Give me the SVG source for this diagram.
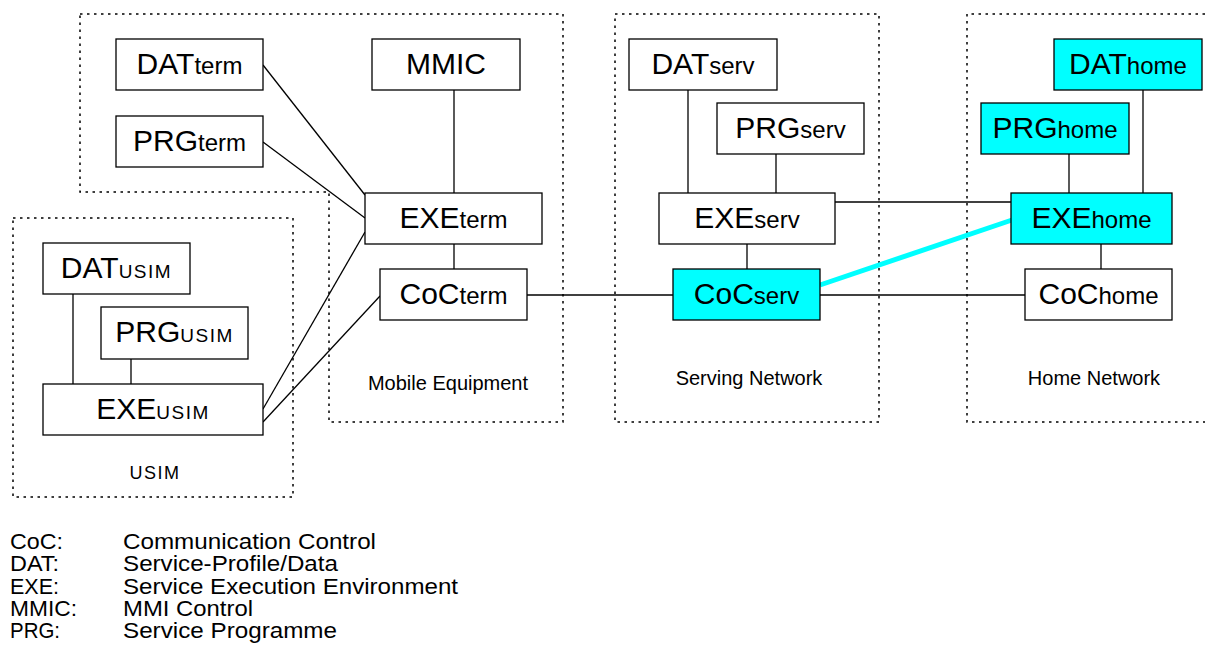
<svg xmlns="http://www.w3.org/2000/svg" width="1205" height="658" viewBox="0 0 1205 658">
<style>
.bg{fill:#ffffff}
.zone{fill:none;stroke:#000;stroke-width:1.5;stroke-dasharray:2.5 4.5}
.box{fill:#ffffff;stroke:#000;stroke-width:1.3}
.hi{fill:#00ffff;stroke:#000;stroke-width:1.3}
.lbl{font-family:"Liberation Sans",Arial,sans-serif;font-size:30px;fill:#000;text-anchor:middle}
.sub{font-size:24px}
.subc{font-size:19px;letter-spacing:1.5px}
.zl{font-family:"Liberation Sans",Arial,sans-serif;font-size:20px;fill:#000;text-anchor:middle}
.lg{font-family:"Liberation Sans",Arial,sans-serif;font-size:22px;fill:#000}
.cn{stroke:#000;stroke-width:1.3;fill:none}
.cy{stroke:#00ffff;stroke-width:5;fill:none}
</style>
<rect class="bg" x="0" y="0" width="1205" height="658"/>
<g id="zones">
  <polygon class="zone" points="80,14 563,14 563,422 329,422 329,192 80,192"/>
  <rect class="zone" x="13" y="218" width="280" height="279"/>
  <rect class="zone" x="615" y="14" width="264" height="408"/>
  <polyline class="zone" points="1205,14 967,14 967,422 1205,422"/>
  <text class="zl" x="448" y="390">Mobile Equipment</text>
  <text class="zl" x="749" y="385">Serving Network</text>
  <text class="zl" x="1094" y="385">Home Network</text>
  <text class="zl" x="155" y="479" style="font-size:18px;letter-spacing:1.5px">USIM</text>
</g>
<g id="connectors">
  <line class="cn" x1="263" y1="65" x2="365" y2="195"/>
  <line class="cn" x1="263" y1="142" x2="365" y2="218"/>
  <line class="cn" x1="263" y1="409" x2="365" y2="232"/>
  <line class="cn" x1="263" y1="422" x2="380" y2="296"/>
  <line class="cn" x1="454" y1="90" x2="454" y2="193"/>
  <line class="cn" x1="454" y1="244" x2="454" y2="269"/>
  <line class="cn" x1="527" y1="295" x2="673" y2="295"/>
  <line class="cn" x1="688" y1="90" x2="688" y2="193"/>
  <line class="cn" x1="776" y1="154" x2="776" y2="193"/>
  <line class="cn" x1="747" y1="244" x2="747" y2="269"/>
  <line class="cn" x1="835" y1="202" x2="1011" y2="202"/>
  <line class="cn" x1="820" y1="295" x2="1025" y2="295"/>
  <line class="cn" x1="1069" y1="154" x2="1069" y2="193"/>
  <line class="cn" x1="1143" y1="90" x2="1143" y2="193"/>
  <line class="cn" x1="1101" y1="244" x2="1101" y2="269"/>
  <line class="cn" x1="73" y1="294" x2="73" y2="384"/>
  <line class="cn" x1="131" y1="359" x2="131" y2="384"/>
  <line class="cy" x1="820" y1="285" x2="1012" y2="220"/>
</g>
<g id="DATterm"><rect class="box" x="116" y="39" width="147" height="51"/><text class="lbl" x="189.5" y="74">DAT<tspan class="sub">term</tspan></text></g>
<g id="PRGterm"><rect class="box" x="116" y="116" width="147" height="51"/><text class="lbl" x="189.5" y="151">PRG<tspan class="sub">term</tspan></text></g>
<g id="MMIC"><rect class="box" x="372" y="39" width="148" height="51"/><text class="lbl" x="446" y="74">MMIC</text></g>
<g id="EXEterm"><rect class="box" x="365" y="193" width="177" height="51"/><text class="lbl" x="453.5" y="228">EXE<tspan class="sub">term</tspan></text></g>
<g id="CoCterm"><rect class="box" x="380" y="269" width="147" height="51"/><text class="lbl" x="453.5" y="304">CoC<tspan class="sub">term</tspan></text></g>
<g id="DATserv"><rect class="box" x="629" y="39" width="148" height="51"/><text class="lbl" x="703" y="74">DAT<tspan class="sub">serv</tspan></text></g>
<g id="PRGserv"><rect class="box" x="717" y="103" width="147" height="51"/><text class="lbl" x="790.5" y="138">PRG<tspan class="sub">serv</tspan></text></g>
<g id="EXEserv"><rect class="box" x="659" y="193" width="176" height="51"/><text class="lbl" x="747" y="228">EXE<tspan class="sub">serv</tspan></text></g>
<g id="CoCserv"><rect class="hi" x="673" y="269" width="147" height="51"/><text class="lbl" x="746.5" y="304">CoC<tspan class="sub">serv</tspan></text></g>
<g id="DAThome"><rect class="hi" x="1054" y="39" width="148" height="51"/><text class="lbl" x="1128" y="74">DAT<tspan class="sub">home</tspan></text></g>
<g id="PRGhome"><rect class="hi" x="981" y="103" width="148" height="51"/><text class="lbl" x="1055" y="138">PRG<tspan class="sub">home</tspan></text></g>
<g id="EXEhome"><rect class="hi" x="1011" y="193" width="161" height="51"/><text class="lbl" x="1091.5" y="228">EXE<tspan class="sub">home</tspan></text></g>
<g id="CoChome"><rect class="box" x="1025" y="269" width="147" height="51"/><text class="lbl" x="1098.5" y="304">CoC<tspan class="sub">home</tspan></text></g>
<g id="DATusim"><rect class="box" x="43" y="243" width="147" height="51"/><text class="lbl" x="116.5" y="278">DAT<tspan class="subc">USIM</tspan></text></g>
<g id="PRGusim"><rect class="box" x="101" y="307" width="147" height="52"/><text class="lbl" x="174.5" y="342">PRG<tspan class="subc">USIM</tspan></text></g>
<g id="EXEusim"><rect class="box" x="43" y="384" width="220" height="51"/><text class="lbl" x="153" y="419">EXE<tspan class="subc">USIM</tspan></text></g>
<g id="legend">
  <text class="lg" x="10" y="549" textLength="53" lengthAdjust="spacingAndGlyphs">CoC:</text><text class="lg" x="123" y="549" textLength="253" lengthAdjust="spacingAndGlyphs">Communication Control</text>
  <text class="lg" x="10" y="571" textLength="49" lengthAdjust="spacingAndGlyphs">DAT:</text><text class="lg" x="123" y="571" textLength="215" lengthAdjust="spacingAndGlyphs">Service-Profile/Data</text>
  <text class="lg" x="10" y="594" textLength="49" lengthAdjust="spacingAndGlyphs">EXE:</text><text class="lg" x="123" y="594" textLength="335" lengthAdjust="spacingAndGlyphs">Service Execution Environment</text>
  <text class="lg" x="10" y="616" textLength="67" lengthAdjust="spacingAndGlyphs">MMIC:</text><text class="lg" x="123" y="616" textLength="130" lengthAdjust="spacingAndGlyphs">MMI Control</text>
  <text class="lg" x="10" y="638" textLength="50" lengthAdjust="spacingAndGlyphs">PRG:</text><text class="lg" x="123" y="638" textLength="214" lengthAdjust="spacingAndGlyphs">Service Programme</text>
</g>
</svg>
